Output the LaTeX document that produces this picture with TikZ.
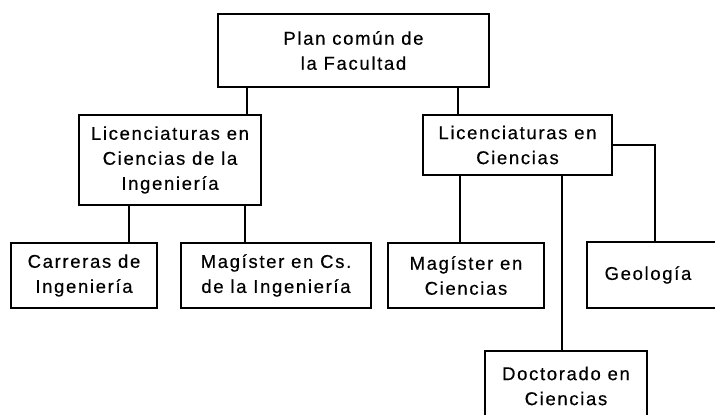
\documentclass[tikz,border=0pt]{standalone}
\usepackage{fontspec}
\setmainfont[LetterSpace=9,FakeBold=0.4]{Liberation Sans}
\usetikzlibrary{positioning,calc}

\begin{document}
\begin{tikzpicture}[x=1pt, y=-1pt, font=\fontsize{18.5}{25}\selectfont]
\tikzstyle{box}=[draw=black,line width=2.5pt,align=center,inner sep=0pt]
\tikzstyle{link}=[line width=1.8pt]
\clip (0,0) rectangle (715,415);
% top level
\node[box, minimum width=271, minimum height=73] (plan) at (353.5,50.5) {Plan común de\\la Facultad};
% licenciaturas
\node[box, minimum width=182, minimum height=90] (lici) at (170,160)   {Licenciaturas en\\Ciencias de la\\Ingeniería};
\node[box, minimum width=189, minimum height=60] (licc) at (517.5,145) {Licenciaturas en\\Ciencias};
% bottom row
\node[box, minimum width=146, minimum height=65] (carr) at (84,275.5)  {Carreras de\\Ingeniería};
\node[box, minimum width=190, minimum height=65] (magi) at (276,275.5) {Magíster en Cs.\\de la Ingeniería};
\node[box, minimum width=156, minimum height=65] (magc) at (466,275.5) {Magíster en\\Ciencias};
\node[box, minimum width=138, minimum height=66,
      label={[xshift=-8pt]center:Geología}] (geol) at (656,275) {};
\node[box, minimum width=162, minimum height=70] (doct) at (566,386)   {Doctorado en\\Ciencias};
% connectors
\draw[link] (plan.south -| 247,0) -- (lici.north -| 247,0);
\draw[link] (plan.south -| 458,0) -- (licc.north -| 458,0);
\draw[link] (lici.south -| 129,0) -- (carr.north -| 129,0);
\draw[link] (lici.south -| 245,0) -- (magi.north -| 245,0);
\draw[link] (licc.south -| 460,0) -- (magc.north -| 460,0);
\draw[link] (licc.south -| 562,0) -- (doct.north -| 562,0);
\draw[link] (licc.east) -| (geol.north -| 655,0);
\end{tikzpicture}
\end{document}
